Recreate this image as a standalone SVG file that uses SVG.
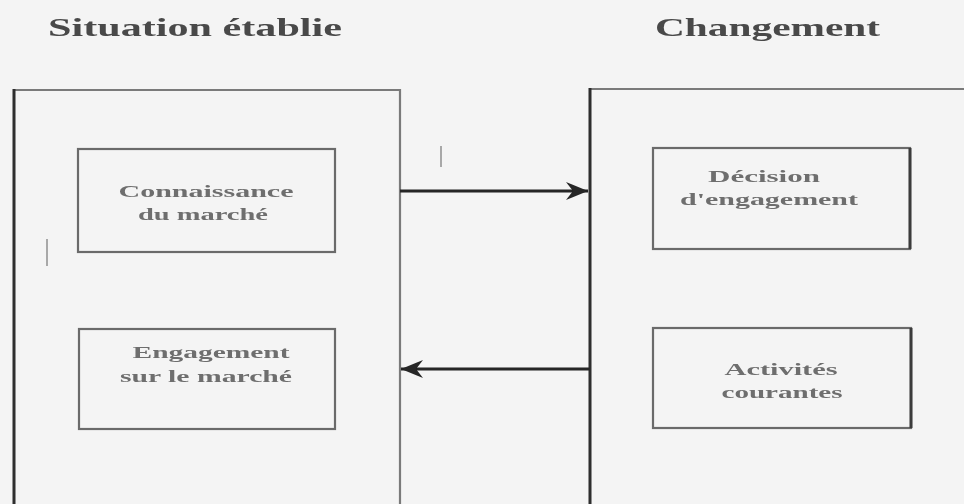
<svg xmlns="http://www.w3.org/2000/svg" width="964" height="504" viewBox="0 0 964 504">
  <style>
    .title { font-family: "Liberation Serif", "DejaVu Serif", serif; font-weight: bold; font-size: 25px; fill: #4a4a4a; }
    .label { font-family: "Liberation Serif", "DejaVu Serif", serif; font-weight: bold; font-size: 16px; fill: #6e6e6e; text-anchor: middle; }
    .outer { fill: none; stroke: #7a7a7a; stroke-width: 2.2; }
    .outer-left { fill: none; stroke: #2e2e2e; stroke-width: 3; }
    .inner { fill: none; stroke: #6a6a6a; stroke-width: 2.2; }
    .link { fill: none; stroke: #252525; stroke-width: 3.2; }
    .speck { stroke: #a8a8a8; stroke-width: 2; }
  </style>
  <defs>
    <filter id="soft" x="-2%" y="-2%" width="104%" height="104%">
      <feGaussianBlur stdDeviation="0.55"/>
    </filter>
    <marker id="head" markerUnits="userSpaceOnUse" markerWidth="24" markerHeight="20" refX="22" refY="9" orient="auto">
      <path d="M0,0 L22,9 L0,18 L7,9 z" fill="#252525"/>
    </marker>
  </defs>

  <rect width="964" height="504" fill="#f4f4f4"/>

  <g filter="url(#soft)">
    <!-- column headings -->
    <text class="title" x="48" y="36" textLength="294" lengthAdjust="spacingAndGlyphs">Situation établie</text>
    <text class="title" x="655" y="36" textLength="225" lengthAdjust="spacingAndGlyphs">Changement</text>

    <!-- established situation frame -->
    <g id="situation">
      <path class="outer" d="M14,90 H400 V510"/>
      <path class="outer-left" d="M14,89 V510"/>
    </g>

    <!-- change frame -->
    <g id="changement">
      <path class="outer" d="M590,89 H970"/>
      <path class="outer-left" d="M590,88 V510"/>
    </g>

    <g id="connaissance">
      <rect class="inner" x="78" y="149" width="257" height="103"/>
      <text class="label" x="206" y="197" textLength="175" lengthAdjust="spacingAndGlyphs">Connaissance</text>
      <text class="label" x="203" y="220" textLength="130" lengthAdjust="spacingAndGlyphs">du marché</text>
    </g>

    <g id="engagement">
      <rect class="inner" x="79" y="329" width="256" height="100"/>
      <text class="label" x="211" y="358" textLength="157" lengthAdjust="spacingAndGlyphs">Engagement</text>
      <text class="label" x="206" y="382" textLength="172" lengthAdjust="spacingAndGlyphs">sur le marché</text>
    </g>

    <g id="decision">
      <rect class="inner" x="653" y="148" width="257" height="101"/>
      <path d="M910,148 V249" stroke="#3a3a3a" stroke-width="3"/>
      <text class="label" x="764" y="182" textLength="112" lengthAdjust="spacingAndGlyphs">Décision</text>
      <text class="label" x="769" y="205" textLength="178" lengthAdjust="spacingAndGlyphs">d'engagement</text>
    </g>

    <g id="activites">
      <rect class="inner" x="653" y="328" width="258" height="100"/>
      <path d="M911,328 V428" stroke="#3a3a3a" stroke-width="3"/>
      <text class="label" x="781" y="375" textLength="113" lengthAdjust="spacingAndGlyphs">Activités</text>
      <text class="label" x="782" y="398" textLength="121" lengthAdjust="spacingAndGlyphs">courantes</text>
    </g>

    <!-- connectors between the two frames -->
    <g id="connectors">
      <line class="link" x1="400" y1="191" x2="588" y2="191" marker-end="url(#head)"/>
      <line class="link" x1="590" y1="369" x2="401" y2="369" marker-end="url(#head)"/>
    </g>

    <!-- small stray ticks -->
    <line class="speck" x1="441" y1="146" x2="441" y2="167"/>
    <line class="speck" x1="47" y1="239" x2="47" y2="266"/>
  </g>
</svg>
